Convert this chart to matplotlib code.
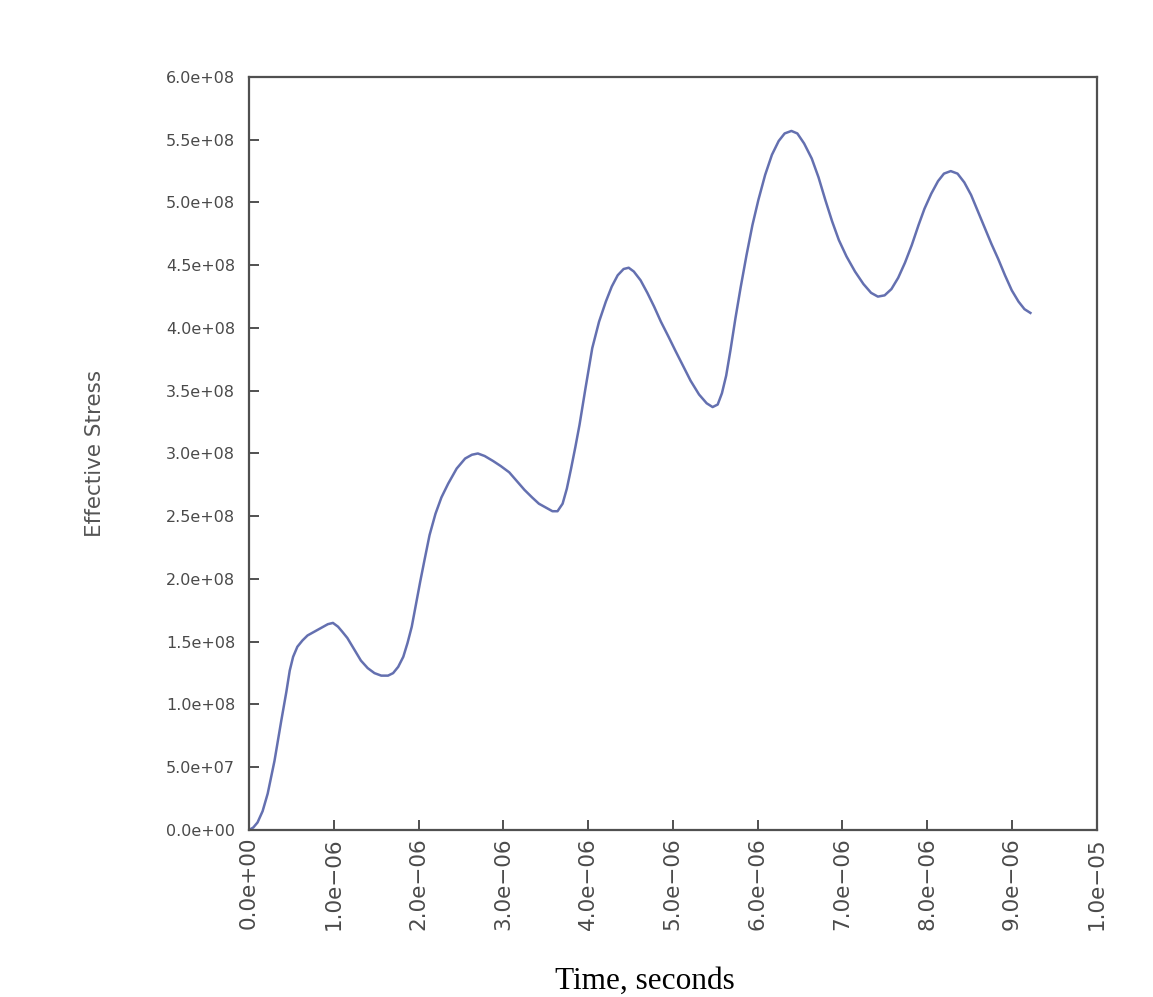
import matplotlib
matplotlib.use("Agg")
import matplotlib.pyplot as plt
import numpy as np

# time in microseconds, effective stress in units of 1e8
time_us = [0, 0.05, 0.1, 0.16, 0.22, 0.3, 0.38, 0.44, 0.48, 0.52, 0.57, 0.63,
           0.69, 0.77, 0.85, 0.93, 0.99, 1.05, 1.1, 1.16, 1.24, 1.32, 1.4,
           1.48, 1.56, 1.64, 1.7, 1.76, 1.82, 1.87, 1.92, 1.97, 2.02, 2.07,
           2.13, 2.2, 2.27, 2.35, 2.45, 2.55, 2.63, 2.7, 2.78, 2.88, 2.97,
           3.07, 3.16, 3.25, 3.34, 3.42, 3.5, 3.58, 3.64, 3.7, 3.75, 3.8,
           3.85, 3.9, 3.97, 4.05, 4.13, 4.21, 4.28, 4.35, 4.42, 4.48, 4.54,
           4.62, 4.7, 4.78, 4.86, 4.95, 5.03, 5.12, 5.21, 5.31, 5.4, 5.47,
           5.53, 5.58, 5.63, 5.68, 5.74, 5.8, 5.87, 5.94, 6.01, 6.09, 6.17,
           6.25, 6.32, 6.4, 6.47, 6.55, 6.64, 6.72, 6.8, 6.88, 6.96, 7.05,
           7.15, 7.25, 7.34, 7.42, 7.5, 7.58, 7.66, 7.74, 7.82, 7.9, 7.97,
           8.05, 8.13, 8.2, 8.28, 8.36, 8.44, 8.52, 8.6, 8.68, 8.76, 8.84,
           8.92, 9.0, 9.08, 9.15, 9.22]
stress_e8 = [0, 0.02, 0.06, 0.15, 0.29, 0.55, 0.87, 1.1, 1.27, 1.38, 1.46, 1.51,
             1.55, 1.58, 1.61, 1.64, 1.65, 1.62, 1.58, 1.53, 1.44, 1.35, 1.29,
             1.25, 1.23, 1.23, 1.25, 1.30, 1.38, 1.49, 1.62, 1.80, 1.98, 2.15,
             2.35, 2.52, 2.65, 2.76, 2.88, 2.96, 2.99, 3.0, 2.98, 2.94, 2.90,
             2.85, 2.78, 2.71, 2.65, 2.60, 2.57, 2.54, 2.54, 2.60, 2.72, 2.88,
             3.05, 3.23, 3.52, 3.84, 4.05, 4.21, 4.33, 4.42, 4.47, 4.48, 4.45,
             4.38, 4.28, 4.17, 4.05, 3.93, 3.82, 3.70, 3.58, 3.47, 3.40, 3.37,
             3.39, 3.48, 3.62, 3.82, 4.08, 4.32, 4.58, 4.82, 5.02, 5.22, 5.38,
             5.49, 5.55, 5.57, 5.55, 5.47, 5.35, 5.20, 5.02, 4.85, 4.70, 4.57,
             4.45, 4.35, 4.28, 4.25, 4.26, 4.31, 4.40, 4.52, 4.66, 4.82, 4.95,
             5.07, 5.17, 5.23, 5.25, 5.23, 5.16, 5.06, 4.93, 4.80, 4.67, 4.55,
             4.42, 4.30, 4.21, 4.15, 4.12]

x_ticks = np.arange(0, 11) * 1e-6
y_ticks = np.arange(0, 13) * 5e7


def sci(v):
    return f"{v:.1e}".replace("-", "\u2212")


t = np.array(time_us) * 1e-6
s = np.array(stress_e8) * 1e8

fig = plt.figure(figsize=(11.53, 9.97), dpi=100)
ax = fig.add_axes([0.216, 0.1675, 0.735, 0.7553])

ax.plot(t, s, color="#6470b0", lw=1.8, solid_joinstyle="round")
ax.set_xlim(0, 1e-5)
ax.set_ylim(0, 6e8)
ax.set_xticks(x_ticks)
ax.set_yticks(y_ticks)
ax.set_xticklabels([sci(v) for v in x_ticks], rotation=90,
                   fontsize=15.5, color="#4a4a4a")
ax.set_yticklabels([sci(v) for v in y_ticks], fontsize=11.5, color="#4a4a4a")
ax.tick_params(axis="x", direction="in", length=7, width=1.4, color="#505050", pad=5)
ax.tick_params(axis="y", direction="in", length=7, width=1.4, color="#505050", pad=10)

for sp in ax.spines.values():
    sp.set_color("#505050")
    sp.set_linewidth(1.6)

ax.set_ylabel("Effective Stress", fontsize=15.5, color="#555555")
ax.yaxis.set_label_coords(-0.17, 0.5)

fig.text(645 / 1153, 1 - 989 / 997, "Time, seconds", family="Liberation Serif",
         fontsize=22.5, ha="center", va="baseline", color="black")

fig.savefig("out.png", dpi=100)
